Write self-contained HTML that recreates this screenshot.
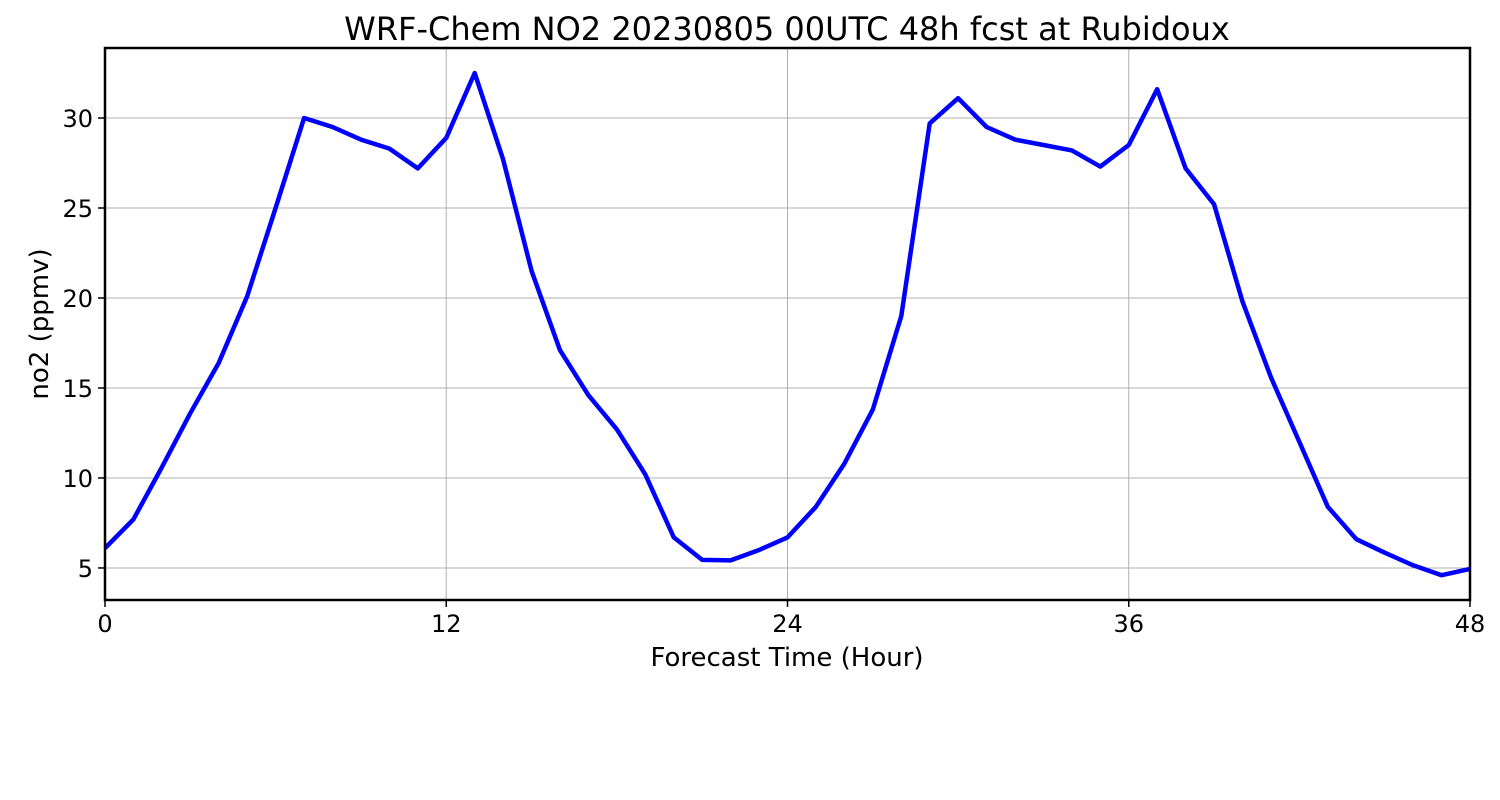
<!DOCTYPE html>
<html><head><meta charset="utf-8"><style>
body{margin:0;background:#fff;}
svg{display:block;font-family:"DejaVu Sans","Liberation Sans",sans-serif;}
</style></head><body>
<svg id="chart" width="1500" height="800">
<rect width="1500" height="800" fill="#fff"/>
<g id="grid"></g>
<g id="ticks"></g>
<path id="line" fill="none" stroke="#0000ff" stroke-width="4.5" stroke-linejoin="round"/>
<rect x="105" y="48" width="1365" height="552" fill="none" stroke="#000" stroke-width="2.5"/>
<text x="787" y="40" text-anchor="middle" font-size="32">WRF-Chem NO2  20230805 00UTC 48h fcst at Rubidoux</text>
<text x="787" y="666" text-anchor="middle" font-size="26">Forecast Time (Hour)</text>
<text transform="translate(48,324) rotate(-90)" text-anchor="middle" font-size="26">no2  (ppmv)</text>
</svg>
<script>
const hours=[0,1,2,3,4,5,6,7,8,9,10,11,12,13,14,15,16,17,18,19,20,21,22,23,24,25,26,27,28,29,30,31,32,33,34,35,36,37,38,39,40,41,42,43,44,45,46,47,48];
const no2=[6.1,7.7,10.6,13.6,16.4,20.1,25.0,30.0,29.5,28.8,28.3,27.2,28.9,32.5,27.7,21.5,17.1,14.6,12.7,10.2,6.7,5.45,5.42,6.0,6.7,8.4,10.8,13.8,19.0,29.7,31.1,29.5,28.8,28.5,28.2,27.3,28.5,31.6,27.2,25.2,19.8,15.6,12.0,8.4,6.6,5.85,5.15,4.6,4.95];
const xTicks=[0,12,24,36,48];
const yTicks=[5,10,15,20,25,30];
const X0=105,X1=1470,Y0=600,Y1=48,xmin=0,xmax=48,ymin=3.22,ymax=33.89;
const sx=v=>X0+(v-xmin)/(xmax-xmin)*(X1-X0);
const sy=v=>Y0-(v-ymin)/(ymax-ymin)*(Y0-Y1);
const NS="http://www.w3.org/2000/svg";
const grid=document.getElementById('grid'),ticks=document.getElementById('ticks');
function mk(t,a,p){const e=document.createElementNS(NS,t);for(const k in a)e.setAttribute(k,a[k]);p.appendChild(e);return e;}
xTicks.forEach(v=>{
 const g=mk('line',{x1:sx(v),x2:sx(v),y1:Y1,y2:Y0,stroke:'#b0b0b0','stroke-width':1},grid);
 
 
 const tk=mk('line',{x1:sx(v),x2:sx(v),y1:Y0,y2:Y0+7,stroke:'#000','stroke-width':1.5},ticks);
 
 
 const t=mk('text',{x:sx(v),y:Y0+32,'text-anchor':'middle','font-size':24},ticks);
 t.textContent=v;
 
 
});
yTicks.forEach(v=>{
 const g=mk('line',{x1:X0,x2:X1,y1:sy(v),y2:sy(v),stroke:'#b0b0b0','stroke-width':1},grid);
 
 
 const tk=mk('line',{x1:X0-7,x2:X0,y1:sy(v),y2:sy(v),stroke:'#000','stroke-width':1.5},ticks);
 
 
 const t=mk('text',{x:X0-12,y:sy(v)+9,'text-anchor':'end','font-size':24},ticks);
 t.textContent=v;
 
 
});
document.getElementById('line').setAttribute('d',hours.map((h,i)=>(i?'L':'M')+sx(h).toFixed(1)+','+sy(no2[i]).toFixed(1)).join(''));
</script>
</body></html>
